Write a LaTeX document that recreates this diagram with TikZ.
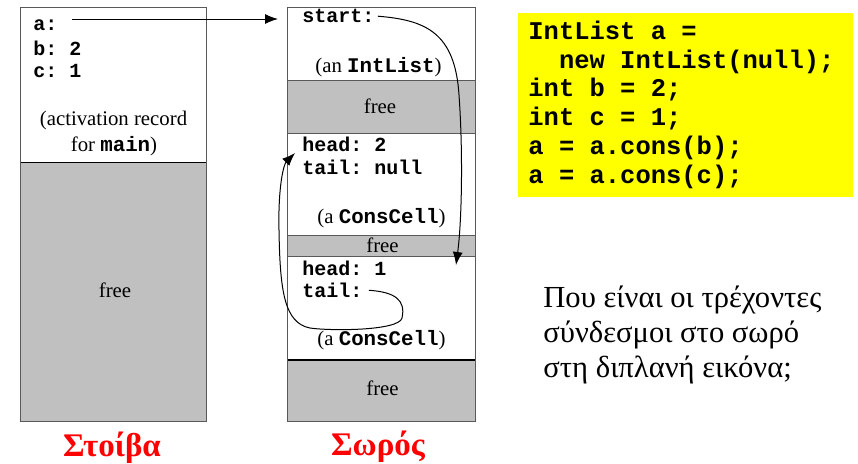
\documentclass[tikz,border=0pt]{standalone}
\usepackage{fontspec}
\setmainfont{Liberation Serif}
\setmonofont{Liberation Mono}
\usetikzlibrary{arrows.meta}
\definecolor{memgray}{RGB}{192,192,192}
\definecolor{codeyellow}{RGB}{255,255,0}
\tikzset{
  memused/.style={draw=black!65, line width=0.5pt, fill=white},
  memfree/.style={draw=black!65, line width=0.5pt, fill=memgray},
  field/.style={font=\fontsize{10}{12}\selectfont\ttfamily\bfseries, anchor=base west, inner sep=0pt},
  note/.style={font=\fontsize{10.4}{12}\selectfont, anchor=base, inner sep=0pt},
  code/.style={font=\fontsize{12.75}{14}\selectfont\ttfamily\bfseries, anchor=base west, inner sep=0pt},
  caption/.style={font=\fontsize{16.5}{18}\selectfont\bfseries, text=red, anchor=base, inner sep=0pt},
  question/.style={font=\fontsize{15.3}{18}\selectfont, anchor=base west, inner sep=0pt},
  ptr/.style={->, line width=0.5pt}
}
\newcommand{\cw}[1]{\texttt{\textbf{#1}}}
\begin{document}
\begin{tikzpicture}[x=0.5pt, y=-0.5pt, >={Latex[length=6.5pt,width=5pt]}]
    \useasboundingbox (0,0) rectangle (858,463);
    % stack
    \draw[memused] (20.5,7.5) rectangle (206,162.5);
    \draw[memfree] (20.5,162.5) rectangle (206,421.5);
    \draw[line width=0.9pt] (20.5,162.5) -- (206,162.5);
    \node[field] (vara) at (33,30) {a:};
    \node[field] (varb) at (33,55) {b: 2};
    \node[field] (varc) at (33,77) {c: 1};
    \node[note] (actrec) at (113.5,125) {(activation record};
    \node[note] (formain) at (114,151.5) {for \cw{main})};
    \node[note] (stackfree) at (115,297) {free};
    % heap
    \draw[memused] (287.5,7.5) rectangle (475,80.5);
    \draw[memfree] (287.5,80.5) rectangle (475,133);
    \draw[memused] (287.5,133) rectangle (475,235);
    \draw[memfree] (287.5,235) rectangle (475,256.5);
    \draw[memused] (287.5,256.5) rectangle (475,360);
    \draw[memfree] (287.5,360) rectangle (475,421.5);
    \draw[line width=0.9pt] (287.5,360) -- (475,360);
    \node[field] (startlbl) at (302,22.5) {start:};
    \node[note] (intlist) at (378.5,72) {(an \cw{IntList})};
    \node[note] (freeone) at (380,113) {free};
    \node[field] (headtwo) at (302,151.5) {head: 2};
    \node[field] (tailtwo) at (302,174) {tail: null};
    \node[note] (celltwo) at (381.5,223) {(a \cw{ConsCell})};
    \node[note] (freetwo) at (382.5,252.5) {free};
    \node[field] (headone) at (302,275) {head: 1};
    \node[field] (tailone) at (302,297) {tail:};
    \node[note] (cellone) at (381.5,345.5) {(a \cw{ConsCell})};
    \node[note] (freethree) at (382.5,395) {free};
    % captions
    \node[caption] (stack) at (112,456) {Στοίβα};
    \node[caption] (heap) at (378,455) {Σωρός};
    % pointers
    \coordinate (aptr) at (72,19);
    \coordinate (heaptop) at (278,19);
    \coordinate (hitone) at (456,265);
    \coordinate (hittwo) at (295,153);
    \draw[ptr] (aptr) -- (heaptop);
    \draw[ptr, shorten <=1.5pt] (startlbl.east) .. controls (425,20) and (455,32) .. (459,95)
        .. controls (463,150) and (462,220) .. (hitone);
    \draw[ptr, shorten <=3pt] (tailone.east) .. controls (395,292) and (406,300) .. (402,318)
        .. controls (399,331) and (330,331) .. (310,328)
        .. controls (284,323) and (280,290) .. (279,230)
        .. controls (278,185) and (284,164) .. (hittwo);
    % code
    \fill[codeyellow] (518,13) rectangle (853,197);
    \foreach \ln [count=\i] in {IntList a =, \phantom{xx}new IntList(null);,
        int b = 2;, int c = 1;, a = a.cons(b);, a = a.cons(c);}
        \node[code] (code\i) at (528,{39.3+28.8*(\i-1)}) {\ln};
    % question
    \node[question] (qone) at (543,307) {Που είναι οι τρέχοντες};
    \node[question] (qtwo) at (543,342) {σύνδεσμοι στο σωρό};
    \node[question] (qthree) at (543,377) {στη διπλανή εικόνα;};
\end{tikzpicture}
\end{document}
